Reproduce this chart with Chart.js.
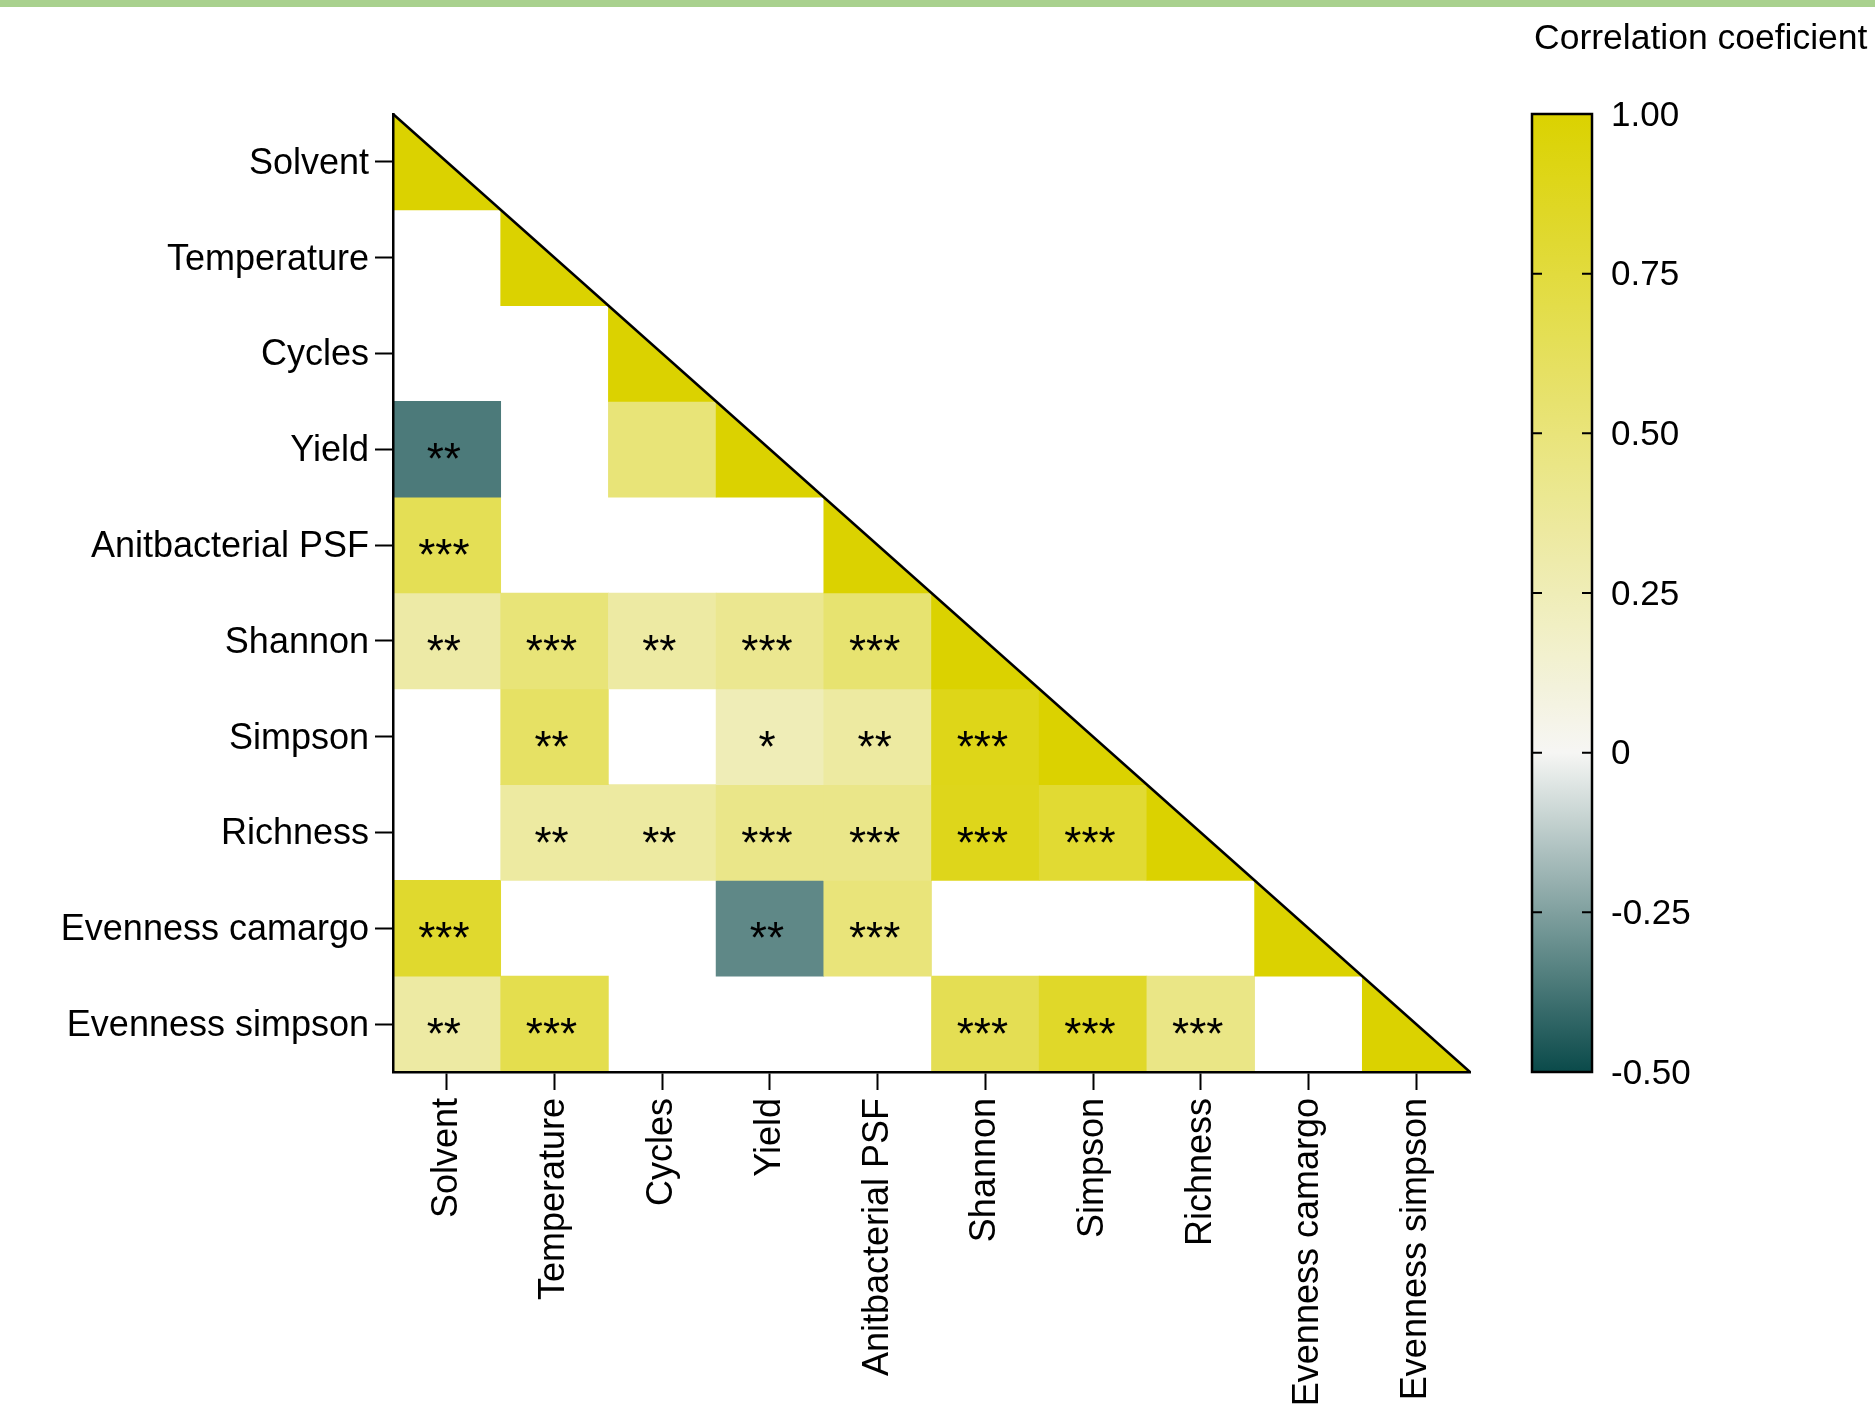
<!DOCTYPE html>
<html>
<head>
<meta charset="utf-8">
<script src="https://cdn.jsdelivr.net/npm/chart.js@4.4.1/dist/chart.umd.min.js"></script>
<style>
  html, body { margin: 0; padding: 0; background: #ffffff; }
  canvas { display: block; }
</style>
</head>
<body>
<canvas id="c" width="1875" height="1419"></canvas>
<script>
// ---------------- DATA ----------------
const variables = ['Solvent', 'Temperature', 'Cycles', 'Yield', 'Anitbacterial PSF',
                   'Shannon', 'Simpson', 'Richness', 'Evenness camargo', 'Evenness simpson'];

// Correlation coefficients, lower triangle (row vs. columns up to the diagonal); null = blank cell
const corrSolvent     = [1];
const corrTemperature = [null, 1];
const corrCycles      = [null, null, 1];
const corrYield       = [-0.36, null, 0.51, 1];
const corrPSF         = [0.65, null, null, null, 1];
const corrShannon     = [0.32, 0.51, 0.33, 0.41, 0.54, 1];
const corrSimpson     = [null, 0.59, null, 0.25, 0.34, 0.90, 1];
const corrRichness    = [null, 0.34, 0.34, 0.44, 0.44, 0.89, 0.79, 1];
const corrEvCamargo   = [0.81, null, null, -0.32, 0.50, null, null, null, 1];
const corrEvSimpson   = [0.33, 0.68, null, null, null, 0.66, 0.83, 0.45, null, 1];

// Significance marks
const sigSolvent     = [''];
const sigTemperature = ['', ''];
const sigCycles      = ['', '', ''];
const sigYield       = ['**', '', '', ''];
const sigPSF         = ['***', '', '', '', ''];
const sigShannon     = ['**', '***', '**', '***', '***', ''];
const sigSimpson     = ['', '**', '', '*', '**', '***', ''];
const sigRichness    = ['', '**', '**', '***', '***', '***', '***', ''];
const sigEvCamargo   = ['***', '', '', '**', '***', '', '', '', ''];
const sigEvSimpson   = ['**', '***', '', '', '', '***', '***', '***', '', ''];

// Colour bar
const colorbarTitle = 'Correlation coeficient';
const colorbarMin = -0.5;
const colorbarMax = 1;
const colorbarTicks = [1, 0.75, 0.5, 0.25, 0, -0.25, -0.5];
const colorbarTickLabels = ['1.00', '0.75', '0.50', '0.25', '0', '-0.25', '-0.50'];

// ---------------- BUILD ----------------
const corrRows = [corrSolvent, corrTemperature, corrCycles, corrYield, corrPSF,
                  corrShannon, corrSimpson, corrRichness, corrEvCamargo, corrEvSimpson];
const sigRows = [sigSolvent, sigTemperature, sigCycles, sigYield, sigPSF,
                 sigShannon, sigSimpson, sigRichness, sigEvCamargo, sigEvSimpson];

const COLOR_STOPS = [
  [-0.5, [10, 74, 74]],
  [0, [246, 246, 244]],
  [1, [219, 210, 0]]
];
function colorFor(v) {
  if (v <= COLOR_STOPS[0][0]) return rgb(COLOR_STOPS[0][1]);
  for (let k = 1; k < COLOR_STOPS.length; k++) {
    const [v1, c1] = COLOR_STOPS[k];
    const [v0, c0] = COLOR_STOPS[k - 1];
    if (v <= v1) {
      const t = (v - v0) / (v1 - v0);
      return rgb(c0.map((c, n) => c + t * (c1[n] - c)));
    }
  }
  return rgb(COLOR_STOPS[COLOR_STOPS.length - 1][1]);
}
function rgb(a) { return 'rgb(' + a.map(Math.round).join(',') + ')'; }

const FONT = "'Liberation Sans', Arial, Helvetica, sans-serif";
Chart.defaults.color = '#000';
Chart.defaults.font.family = FONT;

const datasets = corrRows.map((row, i) => ({
  label: variables[i],
  data: variables.map((_, j) => (j < row.length && row[j] !== null) ? [i, i + 1] : null),
  backgroundColor: variables.map((_, j) => (j < row.length && row[j] !== null) ? colorFor(row[j]) : 'rgba(0,0,0,0)'),
  borderWidth: 0,
  grouped: false,
  barPercentage: 1,
  categoryPercentage: 1
}));

const extras = {
  id: 'extras',
  beforeDraw(chart) {
    const ctx = chart.ctx;
    ctx.save();
    ctx.fillStyle = '#a9d18e';
    ctx.fillRect(0, 0, chart.width, 7);
    ctx.restore();
  },
  afterDatasetsDraw(chart) {
    const { ctx, chartArea: ca, scales: { x, y } } = chart;
    const yTop = y.getPixelForValue(0);
    const yBot = y.getPixelForValue(variables.length);
    ctx.save();
    // white out above the diagonal
    ctx.beginPath();
    ctx.moveTo(ca.left, yTop);
    ctx.lineTo(ca.right + 2, yTop - 1);
    ctx.lineTo(ca.right + 2, yBot);
    ctx.lineTo(ca.right, yBot);
    ctx.closePath();
    ctx.fillStyle = '#ffffff';
    ctx.fill();
    // diagonal line
    ctx.beginPath();
    ctx.moveTo(ca.left, yTop);
    ctx.lineTo(ca.right, yBot);
    ctx.strokeStyle = '#000';
    ctx.lineWidth = 2.5;
    ctx.stroke();
    // significance marks
    ctx.fillStyle = '#000';
    ctx.font = '44px ' + FONT;
    ctx.textAlign = 'center';
    ctx.textBaseline = 'alphabetic';
    sigRows.forEach((row, i) => {
      row.forEach((s, j) => {
        if (!s) return;
        const cx = x.getPixelForValue(j) - 3;
        const cy = y.getPixelForValue(i + 0.5);
        ctx.fillText(s, cx, cy + 25);
      });
    });
    ctx.restore();
  },
  afterDraw(chart) {
    const { ctx, chartArea: ca, scales: { yc } } = chart;
    const top = yc.getPixelForValue(colorbarMax);
    const bot = yc.getPixelForValue(colorbarMin);
    const bx0 = ca.right + 62, bw = 60;
    ctx.save();
    const g = ctx.createLinearGradient(0, top, 0, bot);
    const steps = 30;
    for (let k = 0; k <= steps; k++) {
      const v = colorbarMax - (colorbarMax - colorbarMin) * k / steps;
      g.addColorStop((yc.getPixelForValue(v) - top) / (bot - top), colorFor(v));
    }
    ctx.fillStyle = g;
    ctx.fillRect(bx0, top, bw, bot - top);
    ctx.strokeStyle = '#000';
    ctx.lineWidth = 2.5;
    ctx.strokeRect(bx0, top, bw, bot - top);
    // ticks (inside on both sides) and labels
    ctx.lineWidth = 2;
    ctx.fillStyle = '#000';
    ctx.font = '35px ' + FONT;
    ctx.textAlign = 'left';
    ctx.textBaseline = 'middle';
    colorbarTicks.forEach((t, k) => {
      const py = yc.getPixelForValue(t);
      if (t !== colorbarMax && t !== colorbarMin) {
        ctx.beginPath();
        ctx.moveTo(bx0, py); ctx.lineTo(bx0 + 10, py);
        ctx.moveTo(bx0 + bw - 10, py); ctx.lineTo(bx0 + bw, py);
        ctx.stroke();
      }
      ctx.fillText(colorbarTickLabels[k], bx0 + bw + 19, py + 2);
    });
    // title
    ctx.font = '35.5px ' + FONT;
    ctx.textBaseline = 'alphabetic';
    ctx.fillText(colorbarTitle, bx0 + 2, 49);
    ctx.restore();
  }
};

new Chart(document.getElementById('c'), {
  type: 'bar',
  data: { labels: variables, datasets },
  options: {
    responsive: false,
    animation: false,
    devicePixelRatio: 1,
    layout: { padding: { top: 114, right: 405, left: 0, bottom: 0 } },
    plugins: { legend: { display: false }, tooltip: { enabled: false }, title: { display: false } },
    scales: {
      x: {
        type: 'category',
        offset: true,
        grid: { offset: false, drawOnChartArea: false, drawTicks: true, tickLength: 18, tickColor: '#000', tickWidth: 2 },
        border: { display: true, color: '#000', width: 2.5, z: 1 },
        ticks: { autoSkip: false, maxRotation: 90, minRotation: 90, padding: 8, color: '#000', font: { size: 36, family: FONT } },
        afterFit(s) { s.height = 1419 - 1072; }
      },
      y: {
        type: 'linear',
        min: 0,
        max: variables.length,
        reverse: true,
        afterBuildTicks(s) { s.ticks = variables.map((_, i) => ({ value: i + 0.5 })); },
        grid: { drawOnChartArea: false, drawTicks: true, tickLength: 18, tickColor: '#000', tickWidth: 2 },
        border: { display: true, color: '#000', width: 2.5, z: 1 },
        ticks: { padding: 6, labelOffset: 2, color: '#000', font: { size: 36, family: FONT }, callback: (v, i) => variables[i] },
        afterFit(s) { s.width = 393; }
      },
      yc: {
        type: 'linear',
        position: 'right',
        display: false,
        min: colorbarMin,
        max: colorbarMax
      }
    }
  },
  plugins: [extras]
});
</script>
</body>
</html>
